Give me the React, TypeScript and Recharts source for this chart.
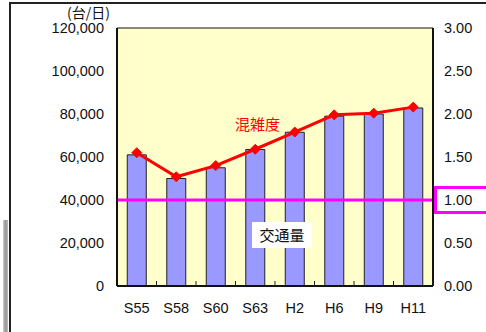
import React from "react";
import {
  Bar,
  CartesianGrid,
  ComposedChart,
  Line,
  ReferenceLine,
  XAxis,
  YAxis,
} from "recharts";

const years = ["S55", "S58", "S60", "S63", "H2", "H6", "H9", "H11"];
const traffic = [61000, 50000, 55000, 63500, 71500, 79000, 80000, 82800];
const congestion = [1.55, 1.27, 1.4, 1.59, 1.79, 1.99, 2.01, 2.08];
const leftTicks = [0, 20000, 40000, 60000, 80000, 100000, 120000];
const rightTicks = [0, 0.5, 1, 1.5, 2, 2.5, 3];
const threshold = 40000;

const data = years.map((year, i) => ({
  year,
  traffic: traffic[i],
  congestion: congestion[i],
}));

const numFont = "'Liberation Sans', Arial, sans-serif";
const jpFont = "'Noto Sans CJK JP', sans-serif";

function YearTick(props: any) {
  const { x, y, payload, width, visibleTicksCount } = props;
  const band = width && visibleTicksCount ? width / visibleTicksCount : 39.5;
  const edge = x + band / 2;
  return (
    <g>
      <line x1={edge} x2={edge} y1={y} y2={y - 5} stroke="#222" strokeWidth={1} />
      <text
        x={x}
        y={y + 27}
        textAnchor="middle"
        fontSize={14.5}
        fontFamily={numFont}
        fill="#111"
      >
        {payload.value}
      </text>
    </g>
  );
}

function Diamond(props: any) {
  const { cx, cy } = props;
  if (cx == null || cy == null) return null;
  const r = 5;
  return (
    <polygon
      points={`${cx},${cy - r} ${cx + r},${cy} ${cx},${cy + r} ${cx - r},${cy}`}
      fill="#FF0000"
      stroke="#FF0000"
    />
  );
}

export default function App() {
  return (
    <div style={{ position: "absolute", left: 0, top: 0, width: 486, height: 332, background: "#fff", overflow: "hidden" }}>
      {/* frame */}
      <div style={{ position: "absolute", left: 9, top: 2, width: 490, height: 340, borderLeft: "2px solid #222", borderTop: "2px solid #222" }} />
      <div style={{ position: "absolute", left: 3, top: 220, width: 5, height: 112, background: "linear-gradient(to right, #ccc, #999, #bbb)" }} />
      {/* 1.00 box */}
      <div style={{ position: "absolute", left: 434, top: 186, width: 60, height: 22, border: "3px solid #FF00FF", background: "#fff" }} />
      <div style={{ position: "absolute", left: 0, top: 0 }}>
        <ComposedChart
          width={486}
          height={332}
          data={data}
          margin={{ top: 28, right: 0, bottom: 0, left: 0 }}
          barCategoryGap="26%"
        >
          <CartesianGrid horizontal vertical={false} fill="#FFFFCC" stroke="#111" strokeOpacity={1} />
          <XAxis
            dataKey="year"
            height={46}
            tickSize={0}
            tickMargin={0}
            axisLine={{ stroke: "#111", strokeWidth: 2 }}
            tickLine={false}
            tick={<YearTick />}
            interval={0}
          />
          <YAxis
            yAxisId="left"
            width={117}
            domain={[0, 120000]}
            ticks={leftTicks}
            tickFormatter={(v: number) => v.toLocaleString("en-US")}
            tickSize={0}
            tickMargin={13}
            tickLine={false}
            axisLine={{ stroke: "#111", strokeWidth: 2 }}
            tick={{ fontSize: 14.5, fontFamily: numFont, fill: "#111" }}
          />
          <YAxis
            yAxisId="right"
            orientation="right"
            width={53}
            domain={[0, 3]}
            ticks={rightTicks}
            tickFormatter={(v: number) => v.toFixed(2)}
            tickSize={0}
            tickMargin={11}
            tickLine={false}
            axisLine={{ stroke: "#111", strokeWidth: 2 }}
            tick={{ fontSize: 14.5, fontFamily: numFont, fill: "#111" }}
          />
          <Bar
            yAxisId="left"
            dataKey="traffic"
            fill="#9999FF"
            stroke="#222"
            strokeWidth={1}
            isAnimationActive={false}
          />
          <ReferenceLine yAxisId="left" y={threshold} stroke="#FF00FF" strokeWidth={3} />
          <Line
            yAxisId="right"
            dataKey="congestion"
            stroke="#FF0000"
            strokeWidth={3}
            dot={<Diamond />}
            activeDot={false}
            isAnimationActive={false}
          />
        </ComposedChart>
      </div>
      {/* labels */}
      <div style={{ position: "absolute", left: 67, top: 5, fontSize: 14, fontFamily: jpFont, color: "#111", lineHeight: "15px" }}>
        (台/日)
      </div>
      <div style={{ position: "absolute", left: 235, top: 114, fontSize: 15, fontFamily: jpFont, color: "#FF0000", lineHeight: "20px" }}>
        混雑度
      </div>
      <div style={{ position: "absolute", left: 252, top: 222, width: 60, height: 26, background: "#fff", fontSize: 15, fontFamily: jpFont, color: "#111", lineHeight: "26px", textAlign: "center" }}>
        交通量
      </div>
    </div>
  );
}
